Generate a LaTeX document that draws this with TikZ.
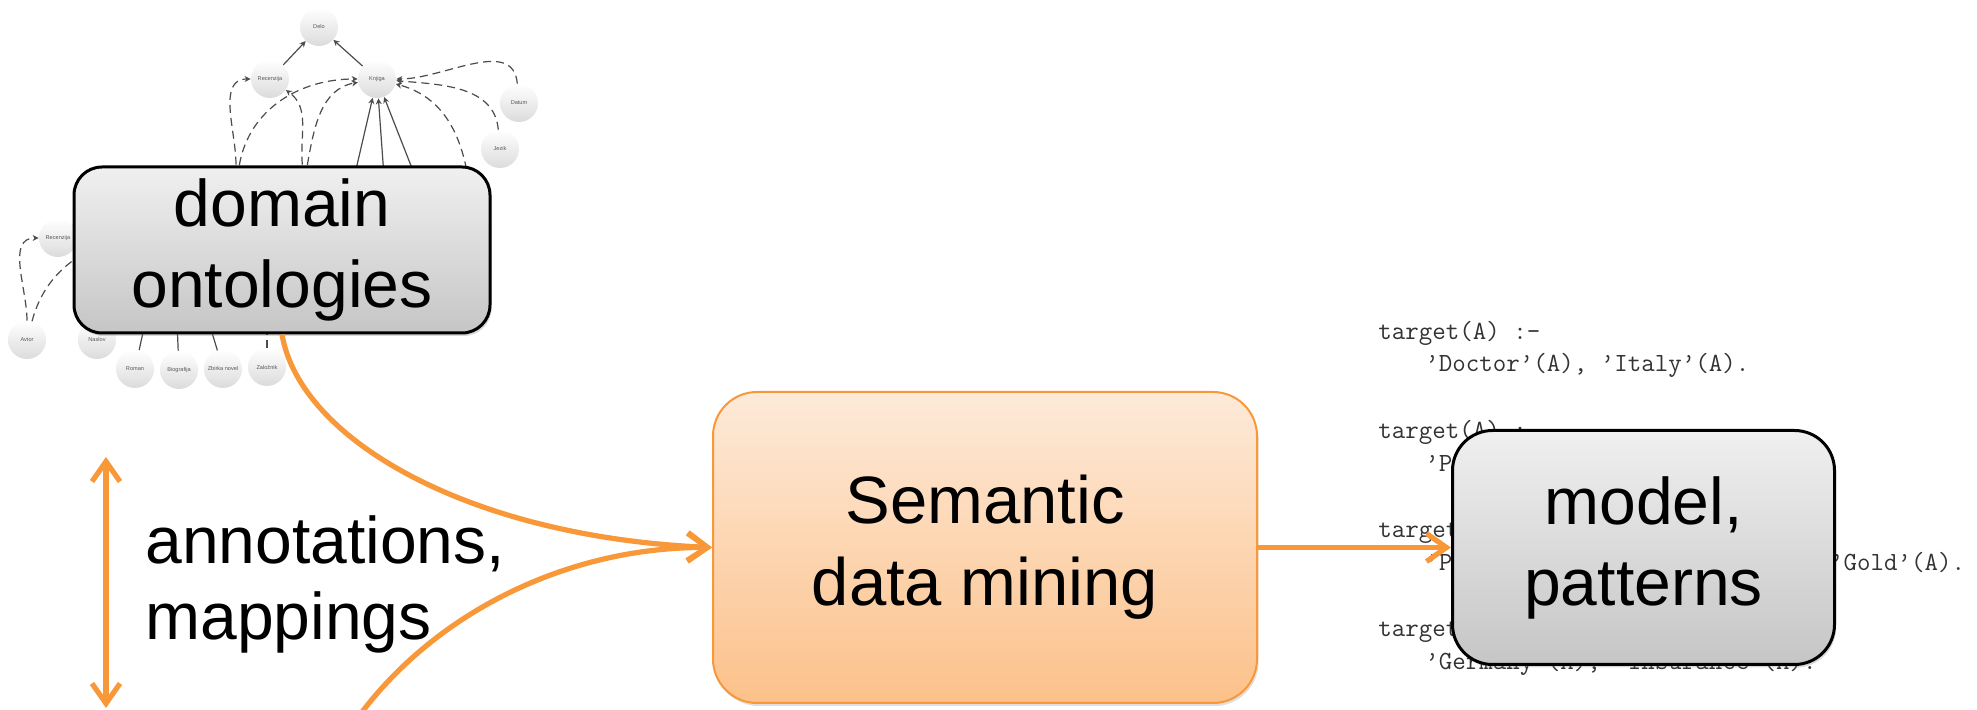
\documentclass[tikz,border=0pt]{standalone}
\usepackage{fontspec}
\setmainfont{Liberation Sans}
\usetikzlibrary{arrows.meta}
\usetikzlibrary{shadows}
\usetikzlibrary{positioning}
\definecolor{flow}{RGB}{248,152,56}
\definecolor{peachtop}{RGB}{253,234,217}
\definecolor{peachbot}{RGB}{252,193,138}
\tikzset{every picture/.style={x=0.5pt,y=-0.5pt},
  onto/.style={circle,minimum size=19pt,inner sep=0pt,top color=white,bottom color=gray!28,font=\fontsize{2.8}{3}\selectfont,text=black!65},
  isa/.style={draw=black!70,line width=0.6pt,-{Stealth[length=3pt,width=3pt]}},
  rel/.style={isa,dash pattern=on 4pt off 2.5pt},
  graybox/.style={rectangle,draw=black,line width=1.5pt,top color=gray!12,bottom color=gray!45,inner sep=0pt,align=center,font=\fontsize{33}{40.5}\selectfont,drop shadow={opacity=0.3,shadow xshift=0.8pt,shadow yshift=-1.5pt}},
  flowline/.style={draw=flow,line width=2.6pt,-{Straight Barb[length=10pt,width=14pt]}},
  code/.style={anchor=base west,inner sep=0pt,font=\fontsize{13.1}{16}\ttfamily,text=black!80}}

\begin{document}
\begin{tikzpicture}
\path[use as bounding box,fill=white] (0,0) rectangle (1977,710);

% ontology graph in the background
\node (delo) [onto] at (319,27) {Delo};
\node (rec) [onto] at (270,79) {Recenzija};
\node (knj) [onto] at (377,79) {Knjiga};
\node (dat) [onto] at (519,103) {Datum};
\node (jez) [onto] at (500,149) {Jezik};
\node (sa) [onto] at (236,184) {};
\node (sb) [onto] at (304,184) {};
\node (recb) [onto] at (58,238) {Recenzija};
\node (avt) [onto] at (27,340) {Avtor};
\node (nas) [onto] at (97,340) {Naslov};
\node (rom) [onto] at (135,369) {Roman};
\node (bio) [onto] at (179,370) {Biografija};
\node (zbi) [onto] at (223,369) {Zbirka novel};
\node (zal) [onto] at (267,367) {Založnik};
\coordinate (k1) at (335,260);
\coordinate (k2) at (390,260);
\coordinate (k3) at (448,260);
\coordinate (hb) at (172,200);
\coordinate (hz) at (267,250);
\coordinate (hk) at (473,260);

\draw[isa] (rec) -- (delo);
\draw[isa] (knj) -- (delo);
\foreach \c in {k1,k2,k3}
  \draw[isa] (\c) -- (knj);
\foreach \c in {rom,bio,zbi}
  \draw[isa,-] (\c) -- (hb);
\draw[rel,-] (zal) -- (hz);
\draw[rel] (hk) to[out=90,in=-15] (knj);
\draw[rel] (dat) to[out=95,in=0] (knj);
\draw[rel] (jez) to[out=95,in=-5] (knj);
\draw[rel] (sa) to[out=90,in=180] (rec);
\draw[rel] (sa) to[out=80,in=180] (knj);
\draw[rel] (sb) to[out=95,in=-35] (rec);
\draw[rel] (sb) to[out=80,in=190] (knj);
\draw[rel] (avt) to[out=90,in=180] (recb);
\draw[rel,-] (avt) to[out=75,in=210] (sa);
\draw[isa,-] (recb) to[out=40,in=190] (sa);

% rules found
\foreach \k/\y in {1/340,2/439,3/538,4/637}
  \node (t\k) [code] at (1378,\y) {target(A) :-};
\foreach \k/\y/\t in {1/372/{’Doctor’(A), ’Italy’(A).},2/472/{’Police’(A), ’Spain’(A).},3/571/{’Pensioner’(A), ’Married’(A), ’Gold’(A).},4/670/{’Germany’(A), ’Insurance’(A).}}
  \node (b\k) [code] at (1425,\y) {\t};

% main boxes
\node (dom) [graybox,rounded corners=14pt,minimum width=208pt,minimum height=83pt] at (282,250) {domain\\ontologies};
\node (sdm) [rectangle,rounded corners=22pt,draw=flow,line width=1pt,top color=peachtop,bottom color=peachbot,minimum width=272pt,minimum height=155.5pt,inner sep=0pt,align=center,font=\fontsize{33.5}{41}\selectfont,drop shadow={opacity=0.25,shadow xshift=0.8pt,shadow yshift=-1.5pt}] at (985,547.5) {Semantic\\data mining};
\node (mdl) [graybox,rounded corners=20pt,minimum width=191pt,minimum height=117pt,right=96.5pt of sdm] {model,\\patterns};
\node (ann) [anchor=west,align=left,inner sep=0pt,font=\fontsize{33}{38}\selectfont] at (145,584) {annotations,\\mappings};

% flows
\coordinate (src) at (362,712);
\coordinate (ua) at (106,457);
\coordinate (ub) at (106,708);
\draw[flowline] (dom.south) .. controls (300,440) and (470,537) .. (sdm.west);
\draw[flowline] (src) .. controls (440,610) and (570,547) .. (sdm.west);
\draw[flowline] (sdm.east) -- (sdm.east -| mdl.west);
\draw[flowline,{Straight Barb[length=10pt,width=14pt]}-{Straight Barb[length=10pt,width=14pt]}] (ua) -- (ub);
\end{tikzpicture}
\end{document}
